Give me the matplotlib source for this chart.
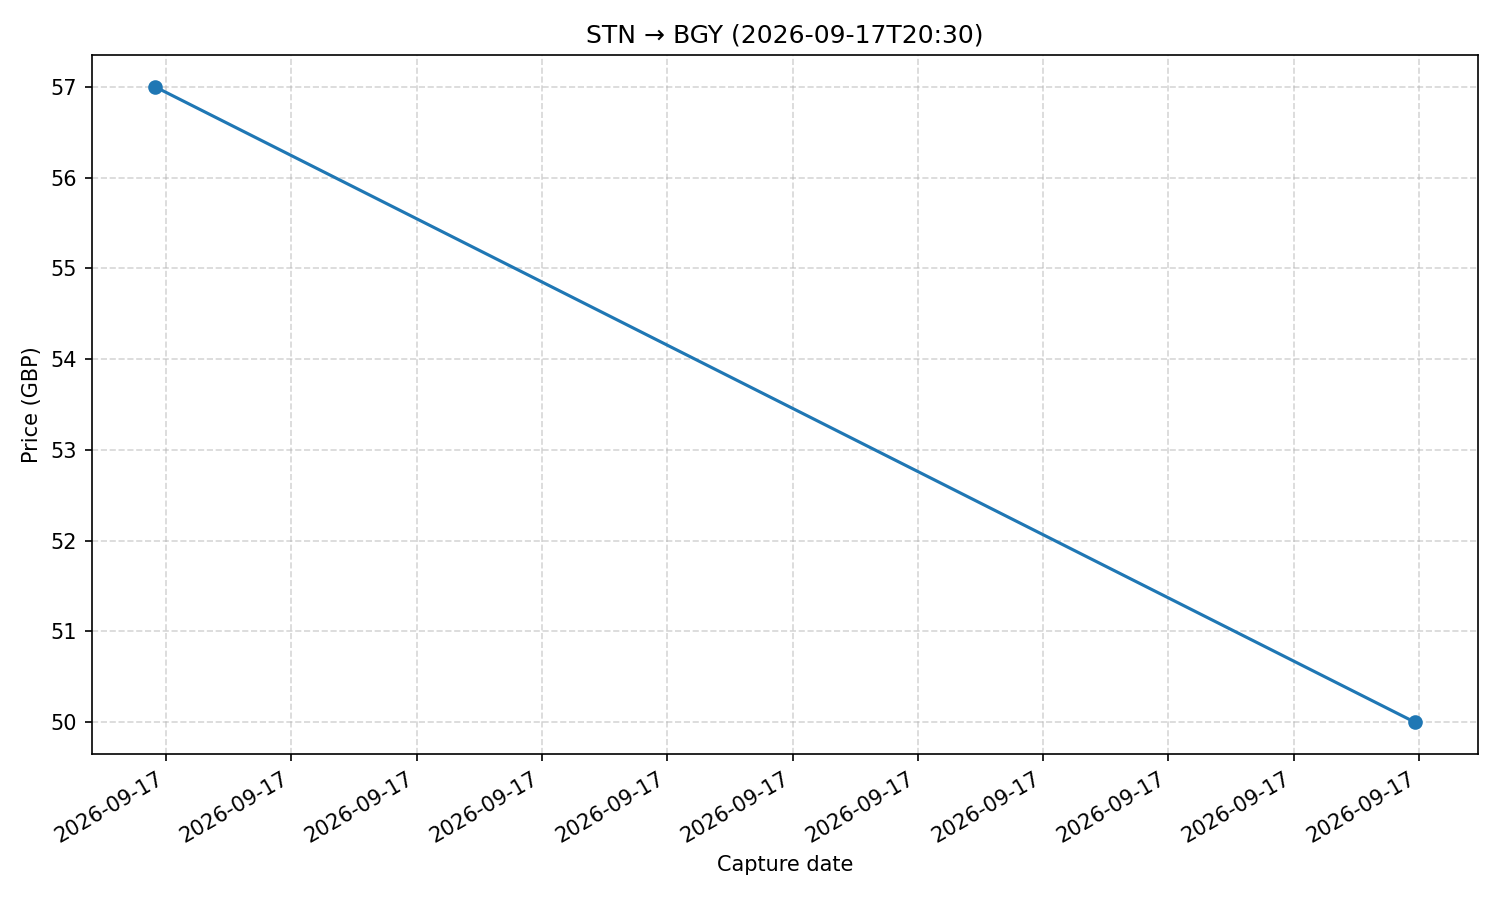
import matplotlib
matplotlib.use("Agg")
import matplotlib.pyplot as plt
import matplotlib.dates as mdates
import pandas as pd

# capture times and prices
capture_times = ["2026-09-17 09:54:40", "2026-09-17 19:58:05"]
prices = [57, 50]

dates = pd.to_datetime(capture_times)

fig, ax = plt.subplots(figsize=(10, 6), dpi=150)
ax.plot(dates, prices, marker="o")
ax.set_title("STN \u2192 BGY (2026-09-17T20:30)")
ax.set_xlabel("Capture date")
ax.set_ylabel("Price (GBP)")
ax.grid(True, linestyle="--", alpha=0.5)
ax.xaxis.set_major_formatter(mdates.DateFormatter("%Y-%m-%d"))
fig.autofmt_xdate()
fig.subplots_adjust(left=0.0613, right=0.9853, top=0.9389, bottom=0.1622)
fig.savefig("out.png")
